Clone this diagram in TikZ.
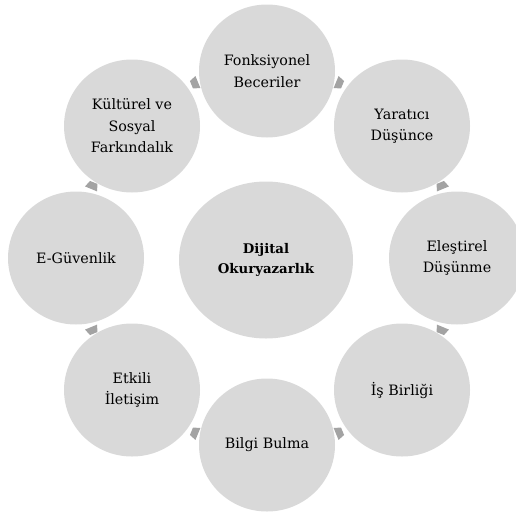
\documentclass[tikz,border=0pt]{standalone}
\usepackage{fontspec}
\setmainfont{DejaVu Serif}
\usetikzlibrary{shapes.geometric,calc}
\definecolor{cfill}{HTML}{D9D9D9}
\definecolor{cconn}{HTML}{A3A3A3}
\begin{document}
\begin{tikzpicture}[x=1pt,y=-1pt,
  bub/.style={ellipse,fill=cfill,minimum width=136pt,minimum height=133pt,inner sep=0pt,
    align=center,font=\fontsize{14.3}{21.5}\selectfont},
  hub/.style={ellipse,fill=cfill,minimum width=174pt,minimum height=157pt,inner sep=0pt,
    align=center,font=\fontsize{13.3}{20.5}\selectfont\bfseries},
  conn/.style={fill=cconn}]
\useasboundingbox (0,0) rectangle (516,514);
\coordinate (C) at (267,258);
\node[hub] (hub) at (266,260) {Dijital\\Okuryazarlık};
\node[bub] (F)  at (267,71)  {Fonksiyonel\\Beceriler};
\node[bub] (Y)  at (402,126) {Yaratıcı\\Düşünce};
\node[bub] (El) at (457,258) {Eleştirel\\Düşünme};
\node[bub] (IB) at (402,390) {İş Birliği};
\node[bub] (BB) at (267,445) {Bilgi Bulma};
\node[bub] (EI) at (132,390) {Etkili\\İletişim};
\node[bub] (EG) at (76,258)  {E-Güvenlik};
\node[bub] (KS) at (132,126) {Kültürel ve\\Sosyal\\Farkındalık};
\foreach \a/\s in {22.5/-1,67.5/1,112.5/-1,157.5/1,202.5/-1,247.5/1,292.5/-1,337.5/1}{
  \fill[conn] ($(C)+(\a:189)+(\a+90:\s*3.5)+(\a:-6.5)$)
    -- ($(C)+(\a:189)+(\a+90:\s*3.5)+(\a:6.5)$)
    -- ($(C)+(\a:189)+(\a+90:-\s*3.5)+(\a:4)$)
    -- ($(C)+(\a:189)+(\a+90:-\s*3.5)+(\a:-4)$) -- cycle;
}
\end{tikzpicture}
\end{document}
